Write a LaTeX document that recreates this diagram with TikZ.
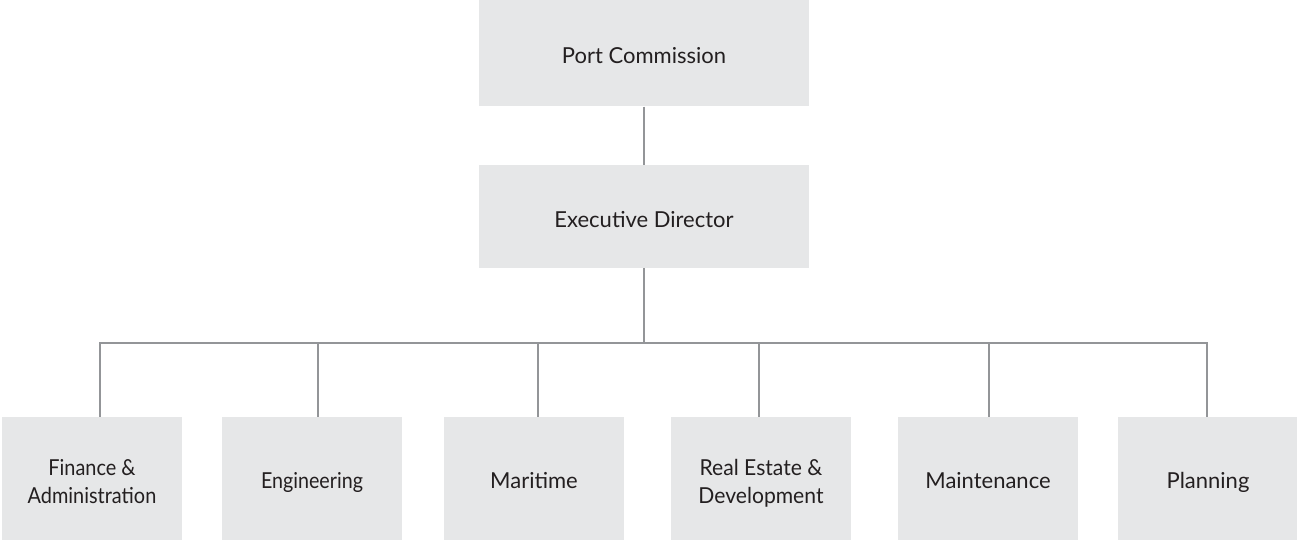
\documentclass[tikz,border=0pt]{standalone}
\usepackage{fontspec}
\setmainfont{Lato}
\definecolor{boxfill}{HTML}{E6E7E8}
\definecolor{linegray}{HTML}{939598}
\definecolor{txt}{HTML}{231F20}
\begin{document}
\begin{tikzpicture}[x=1pt,y=-1pt,
  box/.style={fill=boxfill,draw=none,inner sep=0pt,align=center,text=txt,font=\fontsize{22}{28}\selectfont},
  topbox/.style={box,minimum width=330pt,minimum height=106pt,text height=21pt,text depth=0pt},
  midbox/.style={box,minimum width=330pt,minimum height=103pt,text height=21pt,text depth=0pt},
  deptbox/.style={box,minimum width=180pt,minimum height=123pt,text height=20pt,text depth=0pt},
  deptboxtwo/.style={box,minimum width=180pt,minimum height=123pt,text height=49pt,text depth=0pt},
  conn/.style={draw=linegray,line width=2pt}]
\useasboundingbox (0,0) rectangle (1297,540);
\node[topbox] (pc) at (644,53.5) {Port Commission};
\node[midbox] (ed) at (644,216.5) {Executive Director};
\node[deptboxtwo] (fin) at (92,478.5) {\scalebox{0.905}[1]{Finance \&}\\\scalebox{0.905}[1]{Administration}};
\node[deptbox] (eng) at (312,478.5) {\scalebox{0.895}[1]{Engineering}};
\node[deptbox] (mar) at (534,478.5) {Maritime};
\node[deptboxtwo] (re) at (761,478.5) {\scalebox{0.96}[1]{Real Estate \&}\\\scalebox{0.96}[1]{Development}};
\node[deptbox] (mnt) at (988,478.5) {Maintenance};
\node[deptbox] (pln) at (1208,478.5) {Planning};
\coordinate (bar) at (644,343);
\draw[conn] (pc.south) -- (ed.north);
\draw[conn] (ed.south) -- (bar);
\coordinate (bl) at (100,343);
\coordinate (br) at (1207,343);
\draw[conn,line cap=rect] (bl) -- (br);
\foreach \n/\x in {fin/100,eng/318,mar/538,re/759,mnt/989,pln/1207}{
  \draw[conn] (\x,343) -- (\x,417);
}
\end{tikzpicture}
\end{document}
